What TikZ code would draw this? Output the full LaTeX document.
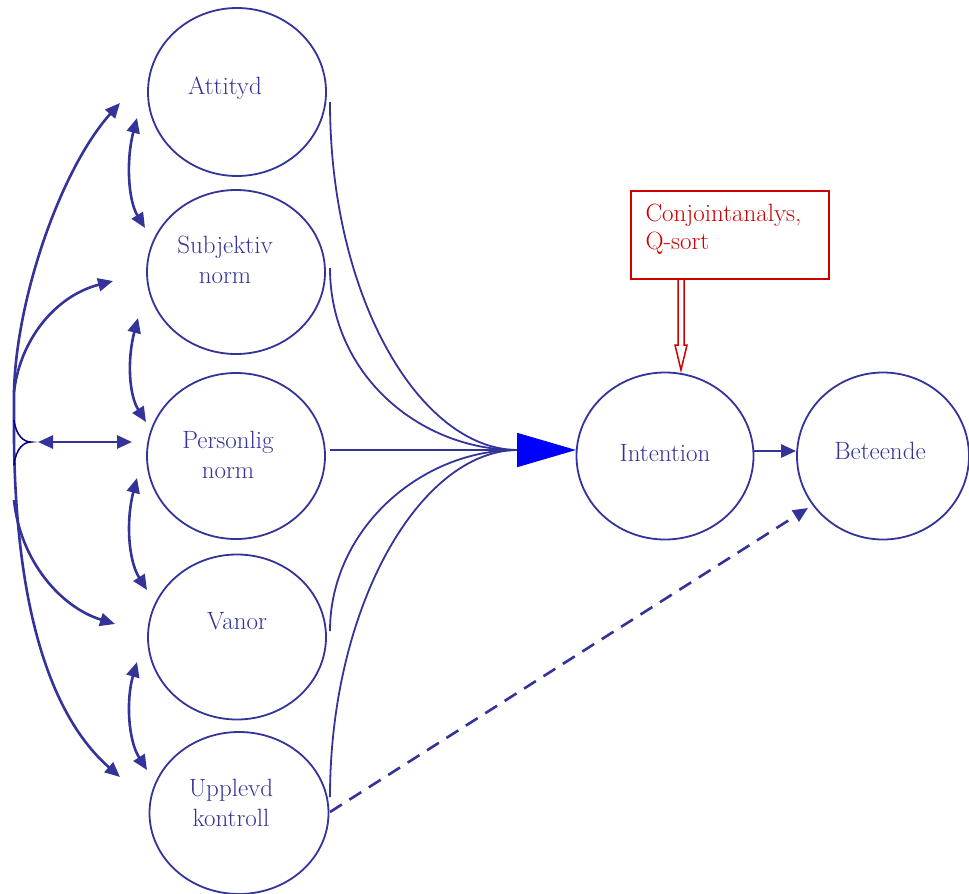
\documentclass[tikz,border=0pt]{standalone}
\usetikzlibrary{shapes.geometric,arrows.meta,calc}
\definecolor{nblue}{HTML}{333399}
\definecolor{navyb}{HTML}{000080}
\definecolor{rred}{HTML}{CC0000}
\begin{document}
\begin{tikzpicture}[x=1pt,y=-1pt,
  circ/.style={ellipse, draw=nblue, line width=1.8pt, inner sep=0pt},
  lbl/.style={text=nblue, font=\fontsize{25}{30}\selectfont, align=center},
  conn/.style={draw=nblue, line width=1.8pt},
  tip/.tip={Triangle[length=15pt,width=13pt]},
  arr/.style={draw=nblue, line width=2.6pt, -tip},
  darr/.style={draw=nblue, line width=2.6pt, tip-tip},
]
\useasboundingbox (0,0) rectangle (969,894);

% ellipses
\node[circ, minimum width=178pt, minimum height=168pt] (att) at (237,92) {};
\node[circ, minimum width=178pt, minimum height=164pt] (sub) at (236,272) {};
\node[circ, minimum width=178pt, minimum height=166pt] (per) at (236,456) {};
\node[circ, minimum width=178pt, minimum height=165pt] (van) at (237,637) {};
\node[circ, minimum width=179pt, minimum height=162pt] (upp) at (239,813) {};
\node[circ, minimum width=177pt, minimum height=167pt] (int) at (665,456) {};
\node[circ, minimum width=172pt, minimum height=167pt] (bet) at (883,456) {};

% labels
\node[lbl] (tatt) at (225,88) {Attityd};
\node[lbl] (tsub) at (225,260) {Subjektiv\\norm};
\node[lbl] (tper) at (228,455) {Personlig\\norm};
\node[lbl] (tvan) at (237,621) {Vanor};
\node[lbl] (tupp) at (231,803) {Upplevd\\kontroll};
\node[lbl] (tint) at (665,453) {Intention};
\node[lbl] (tbet) at (880,451) {Beteende};

% red box
\node[draw=rred, line width=1.5pt, minimum width=198pt, minimum height=88pt, inner sep=0pt] (box) at (730,235) {};
\node[text=rred, font=\fontsize{25}{28}\selectfont, align=left, anchor=west] (tbox) at (642,229) {Conjointanalys,\\Q-sort};
\coordinate (bs) at (681,279);
\draw[rred, line width=1.5pt, line join=miter]
  ($(bs)+(-3,0)$) -- ($(bs)+(-3,66)$) -- ($(bs)+(-6,66)$) -- ($(bs)+(0,91)$)
  -- ($(bs)+(6,66)$) -- ($(bs)+(3,66)$) -- ($(bs)+(3,0)$);

% converging curves
\coordinate (conv) at (517,450);
\coordinate (a1) at (330,102);
\coordinate (s1) at (330,268);
\coordinate (p1) at (330,450);
\coordinate (v1) at (330,631);
\coordinate (u1) at (330,797);
\coordinate (itip) at (576,450);
\draw[conn] (a1) .. controls (330,298) and (420,449) .. (conv);
\draw[conn] (s1) .. controls (330,375) and (420,450) .. (conv);
\draw[conn] (v1) .. controls (330,530) and (420,450) .. (conv);
\draw[conn] (u1) .. controls (330,606) and (420,451) .. (conv);
\draw[conn, -{Triangle[length=59pt,width=34pt,fill=blue,color=blue]}] (p1) -- (itip);

% intention -> beteende
\draw[arr] ($(int.east)+(0,-5)$) -- ($(bet.west)+(0,-5)$);
% dashed
\coordinate (d1) at (330,812);
\coordinate (d2) at (808,508);
\draw[arr, dash pattern=on 14pt off 9pt] (d1) -- (d2);

% left side
\coordinate (l1) at (14,440);
\coordinate (l0) at (14,392);
\coordinate (l2) at (14,420);
\coordinate (l3) at (14,465);
\coordinate (l4) at (14,500);
\coordinate (ta) at (120,103);
\coordinate (ts) at (113,281);
\coordinate (tv) at (115,624);
\coordinate (tu) at (120,777);
\draw[arr] (l1) -- (l0) .. controls (16,300) and (60,170) .. (ta);
\draw[arr] (l0) .. controls (20,340) and (55,296) .. (ts);
\draw[arr] (l4) .. controls (20,560) and (60,607) .. (tv);
\draw[arr] (l1) .. controls (16,620) and (55,720) .. (tu);
\coordinate (bp) at (31,442);
\draw[navyb, line width=1.5pt] (l2) .. controls (16,436) and (24,442) .. (bp)
  .. controls (24,442) and (16,448) .. (l3);
\coordinate (h1) at (38,442);
\coordinate (h2) at (132,442);
\draw[darr] (h1) -- (h2);

% vertical double arrows
\coordinate (v1a) at (137,118); \coordinate (v1b) at (145,228);
\coordinate (v2a) at (138,318); \coordinate (v2b) at (146,422);
\coordinate (v3a) at (137,478); \coordinate (v3b) at (147,590);
\coordinate (v4a) at (137,662); \coordinate (v4b) at (147,770);
\draw[darr] (v1a) .. controls (126,160) and (128,200) .. (v1b);
\draw[darr] (v2a) .. controls (127,360) and (129,395) .. (v2b);
\draw[darr] (v3a) .. controls (126,520) and (128,560) .. (v3b);
\draw[darr] (v4a) .. controls (126,700) and (128,740) .. (v4b);
\end{tikzpicture}
\end{document}
